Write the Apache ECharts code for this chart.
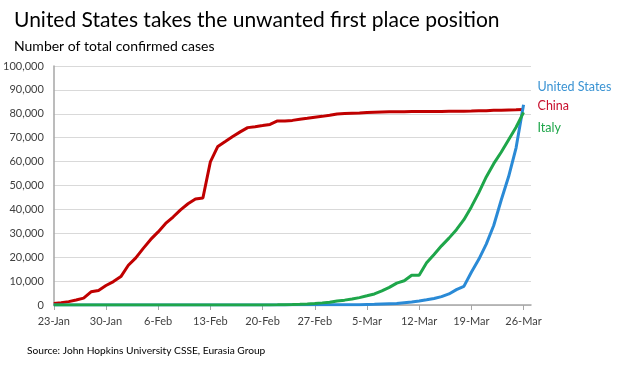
<!DOCTYPE html>
<html>
<head>
<meta charset="utf-8">
<script src="https://cdn.jsdelivr.net/npm/echarts@6/dist/echarts.min.js"></script>
<style>
html,body{margin:0;padding:0;background:#fff;}
#chart{width:625px;height:365px;}
</style>
</head>
<body>
<div id="chart"></div>
<script>
// Dates 23-Jan .. 27-Mar (last category has no data; axis extends one day past 26-Mar)
const months = [['Jan', 23, 31], ['Feb', 1, 29], ['Mar', 1, 27]];
const categories = [];
months.forEach(([m, a, b]) => { for (let d = a; d <= b; d++) categories.push(d + '-' + m); });

const china = [643, 920, 1406, 2075, 2877, 5509, 6087, 8141, 9802, 11891,
  16630, 19716, 23707, 27440, 30587, 34110, 36814, 39829, 42354, 44386,
  44759, 59895, 66358, 68413, 70513, 72434, 74211, 74619, 75077, 75550,
  77001, 77022, 77241, 77754, 78166, 78600, 78928, 79356, 79932, 80136,
  80261, 80386, 80537, 80690, 80770, 80823, 80860, 80887, 80921, 80932,
  80945, 80977, 81003, 81033, 81058, 81102, 81156, 81250, 81305, 81435,
  81498, 81591, 81661, 81782, null];

const italy = [0, 0, 0, 0, 0, 0, 0, 0, 2, 2,
  2, 2, 2, 2, 2, 3, 3, 3, 3, 3,
  3, 3, 3, 3, 3, 3, 3, 3, 3, 20,
  62, 155, 229, 322, 453, 655, 888, 1128, 1694, 2036,
  2502, 3089, 3858, 4636, 5883, 7375, 9172, 10149, 12462, 12462,
  17660, 21157, 24747, 27980, 31506, 35713, 41035, 47021, 53578, 59138,
  63927, 69176, 74386, 80589, null];

const us = [1, 2, 2, 5, 5, 5, 5, 5, 6, 8,
  8, 11, 11, 11, 12, 12, 12, 12, 12, 13,
  13, 14, 14, 14, 14, 14, 14, 14, 14, 15,
  35, 35, 35, 53, 53, 59, 60, 62, 70, 76,
  101, 122, 153, 221, 278, 417, 537, 605, 959, 1281,
  1663, 2179, 2726, 3499, 4632, 6421, 7786, 13680, 19101, 25493,
  33276, 43847, 53740, 65778, 83836, null];
us.splice(0, us.length - 65);

const yTicks = [0, 100000, 10000]; // min, max, interval

const FONT = 'Lato';
const chart = echarts.init(document.getElementById('chart'), null, {renderer: 'canvas'});
chart.setOption({
  animation: false,
  backgroundColor: '#ffffff',
  textStyle: {fontFamily: FONT},
  title: [
    {text: 'United States takes the unwanted first place position', left: 9, top: 5,
     textStyle: {fontFamily: FONT, fontSize: 21, fontWeight: 'normal', color: '#000000'}},
    {text: 'Number of total confirmed cases', left: 9, top: 34,
     textStyle: {fontFamily: FONT, fontSize: 14, fontWeight: 'normal', color: '#000000'}},
    {text: 'Source: John Hopkins University CSSE, Eurasia Group', left: 22, top: 341,
     textStyle: {fontFamily: FONT, fontSize: 10.2, fontWeight: 'normal', color: '#000000'}}
  ],
  grid: {left: 51, top: 66, width: 480, height: 239, containLabel: false},
  xAxis: {
    type: 'category',
    data: categories,
    boundaryGap: false,
    axisLine: {lineStyle: {color: '#a6a6a6', width: 1.5}},
    axisTick: {show: true, interval: 6, length: 5, lineStyle: {color: '#a6a6a6'}},
    axisLabel: {interval: 6, margin: 11, color: '#404040', fontSize: 11, fontFamily: FONT},
    splitLine: {show: false}
  },
  yAxis: {
    type: 'value',
    min: yTicks[0], max: yTicks[1], interval: yTicks[2],
    axisLine: {show: true, lineStyle: {color: '#a6a6a6', width: 1.5}},
    axisTick: {show: false},
    axisLabel: {margin: 10, color: '#404040', fontSize: 11, fontFamily: FONT,
      formatter: v => v.toLocaleString('en-US')},
    splitLine: {lineStyle: {color: '#d9d9d9', width: 1}}
  },
  series: [
    {name: 'United States', type: 'line', data: us, showSymbol: false,
     lineStyle: {color: '#2a8ad6', width: 3}, itemStyle: {color: '#2a8ad6'}, z: 2,
     endLabel: {show: true, formatter: 'United States', color: '#3a93d3', fontSize: 12.5, fontFamily: FONT,
       offset: [6, -18]}},
    {name: 'Italy', type: 'line', data: italy, showSymbol: false,
     lineStyle: {color: '#1ea64a', width: 3}, itemStyle: {color: '#1ea64a'}, z: 3,
     endLabel: {show: true, formatter: 'Italy', color: '#1ea64a', fontSize: 12.5, fontFamily: FONT,
       offset: [6, 16]}},
    {name: 'China', type: 'line', data: china, showSymbol: false,
     lineStyle: {color: '#c00000', width: 3}, itemStyle: {color: '#c00000'}, z: 1,
     endLabel: {show: true, formatter: 'China', color: '#c8102e', fontSize: 12.5, fontFamily: FONT,
       offset: [6, -4]}}
  ]
});
</script>
</body>
</html>
